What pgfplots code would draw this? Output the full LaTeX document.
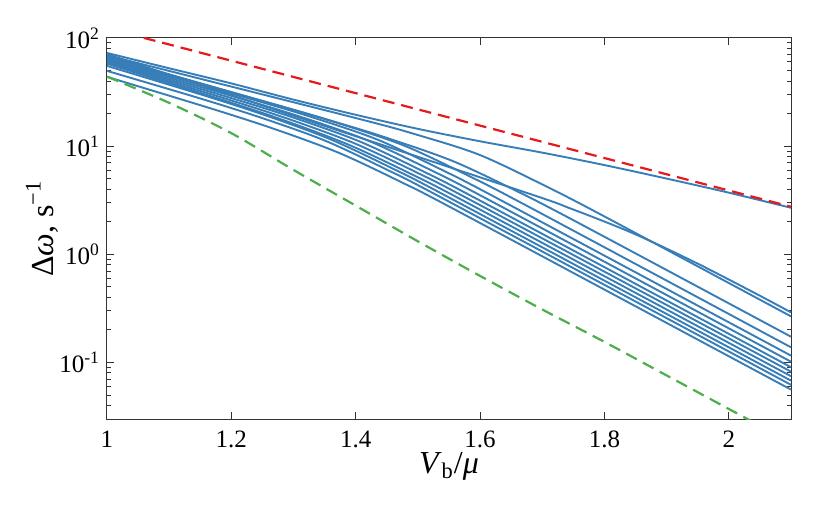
\documentclass[border=0pt]{standalone}
\usepackage{fontspec}
\setmainfont{Liberation Serif}
\usepackage{pgfplots}
\pgfplotsset{compat=1.18}
\definecolor{cblue}{RGB}{55,126,184}
\definecolor{cred}{RGB}{228,26,28}
\definecolor{cgreen}{RGB}{77,175,74}
\begin{document}
\begin{tikzpicture}
\begin{axis}[name=ax, scale only axis, width=342pt, height=190.5pt,
 xmin=1, xmax=2.1, ymin=0.03, ymax=100, ymode=log,
 xtick={1,1.2,1.4,1.6,1.8,2}, xticklabels={1,1.2,1.4,1.6,1.8,2},
 ytick={0.1,1,10,100},
 yticklabels={10\textsuperscript{-1},10\textsuperscript{0},10\textsuperscript{1},10\textsuperscript{2}},
 minor ytick={0.03,0.04,0.05,0.06,0.07,0.08,0.09,0.2,0.3,0.4,0.5,0.6,0.7,0.8,0.9,2,3,4,5,6,7,8,9,20,30,40,50,60,70,80,90},
 tick align=inside, major tick length=3.5pt, minor tick length=2pt,
 axis line style={black!80, line width=0.5pt},
 every tick/.style={black!80, line width=0.5pt},
 ticklabel style={font=\fontsize{12.5}{14}\selectfont},
 xticklabel style={yshift=-2.5pt},
 xlabel={\textit{V}\textsubscript{b}/\textit{μ}},
 ylabel={Δ\textit{ω}, s\textsuperscript{−1}},
 every axis x label/.style={at={(axis description cs:0.5,-0.125)}, anchor=center, font=\fontsize{16}{18}\selectfont},
 every axis y label/.style={at={(axis description cs:-0.095,0.5)}, anchor=center, rotate=90, font=\fontsize{16}{18}\selectfont},
]
\pgfplotsset{every axis plot/.append style={line width=0.95pt}}
\addplot[cblue, smooth] coordinates {(1,43.75) (1.173,21.78) (1.273,14.16) (1.373,8.670) (1.473,4.656) (1.573,2.355) (2.1,0.0561)};
\addplot[cblue, smooth] coordinates {(1,49.66) (1.151,27.48) (1.251,18.07) (1.351,11.22) (1.451,6.026) (1.551,3.048) (2.1,0.0621)};
\addplot[cblue, smooth] coordinates {(1,55.20) (1.159,29.10) (1.259,18.92) (1.359,11.59) (1.459,6.223) (1.559,3.148) (2.1,0.0679)};
\addplot[cblue, smooth] coordinates {(1,57.81) (1.19,26.30) (1.29,16.90) (1.39,10.23) (1.49,5.495) (1.59,2.779) (2.1,0.0746)};
\addplot[cblue, smooth] coordinates {(1,59.29) (1.198,26.67) (1.298,17.34) (1.398,10.62) (1.498,5.715) (1.598,2.890) (2.1,0.0822)};
\addplot[cblue, smooth] coordinates {(1,60.82) (1.206,27.16) (1.306,17.86) (1.406,11.07) (1.506,5.942) (1.606,3.006) (2.1,0.0904)};
\addplot[cblue, smooth] coordinates {(1,62.38) (1.22,27.04) (1.32,17.99) (1.42,11.25) (1.52,6.040) (1.62,3.055) (2.1,0.1016)};
\addplot[cblue, smooth] coordinates {(1,63.98) (1.236,26.79) (1.336,18.03) (1.436,11.43) (1.536,6.138) (1.636,3.104) (2.1,0.1156)};
\addplot[cblue, smooth] coordinates {(1,65.77) (1.28,23.44) (1.38,15.78) (1.48,10.00) (1.58,5.370) (1.68,2.716) (2.1,0.1380)};
\addplot[cblue, smooth] coordinates {(1,67.45) (1.357,17.38) (1.457,11.56) (1.557,7.244) (1.657,3.891) (1.757,1.968) (2.1,0.1730)};
\addplot[cblue, smooth] coordinates {(1,69.18) (1.398,18.32) (1.498,12.77) (1.598,8.356) (1.698,4.488) (1.798,2.270) (2.1,0.2667)};
\addplot[cblue, smooth] coordinates {(1,70.95) (1.647,4.188) (1.747,2.630) (1.847,1.556) (1.947,0.8356) (2.047,0.4227) (2.1,0.2904)};
\addplot[cblue, smooth] coordinates {(1,72.77) (1.1,52.48) (1.2,38.02) (1.3,26.92) (1.4,19.50) (1.5,14.45) (1.6,11.09) (1.7,8.710) (1.8,6.683) (1.9,5.012) (2.0,3.715) (2.1,2.692)};
\addplot[cred, line width=1.1pt, dash pattern=on 6pt off 3.5pt] coordinates {(1,123.0) (2.1,2.754)};
\addplot[cgreen, line width=1.1pt, dash pattern=on 6pt off 3.5pt, smooth] coordinates {(1,43.95) (1.1,25.12) (1.2,13.18) (1.3,6.026) (1.4,2.818) (1.5,1.318) (1.6,0.6310) (1.7,0.3090) (1.8,0.1549) (1.9,0.07586) (2.0,0.03715) (2.1,0.01820)};
\end{axis}
\pgfresetboundingbox
\path (ax.south west) ++(-53.5pt,-43.5pt) rectangle ([shift={(19.5pt,19pt)}]ax.north east);
\end{tikzpicture}
\end{document}
